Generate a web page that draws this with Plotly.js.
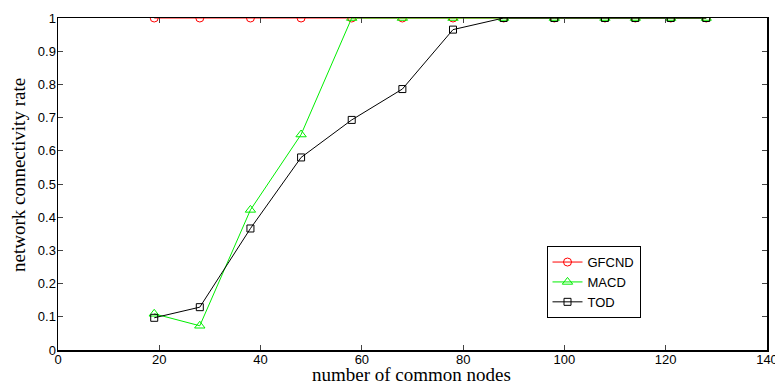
<!DOCTYPE html>
<html><head><meta charset="utf-8">
<script src="https://cdn.plot.ly/plotly-3.0.1.min.js"></script>
<style>html,body{margin:0;padding:0;background:#fff;overflow:hidden}#c{width:775px;height:383px}</style>
</head><body><div id="c"></div>
<script>
const xNodes = [19, 28, 38, 48, 58, 68, 78, 88, 98, 108, 114, 121, 128];
const gfcnd = [1, 1, 1, 1, 1, 1, 1, 1, 1, 1, 1, 1, 1];
const macd = [0.109, 0.073, 0.422, 0.649, 1, 1, 1, 1, 1, 1, 1, 1, 1];
const tod = [0.097, 0.129, 0.366, 0.58, 0.693, 0.786, 0.965, 1, 1, 1, 1, 1, 1];
const xTicks = [0, 20, 40, 60, 80, 100, 120, 140];
const yTicks = [0, 0.1, 0.2, 0.3, 0.4, 0.5, 0.6, 0.7, 0.8, 0.9, 1];
const yTickText = ['0', '0.1', '0.2', '0.3', '0.4', '0.5', '0.6', '0.7', '0.8', '0.9', '1'];
const xTitle = 'number of common nodes';
const yTitle = 'network connectivity rate';

const traces = [
  {x: xNodes, y: gfcnd, name: 'GFCND', mode: 'lines+markers',
   line: {color: '#ff0000', width: 1}, marker: {symbol: 'circle-open', size: 8, color: '#ff0000', line: {width: 1}}},
  {x: xNodes, y: macd, name: 'MACD', mode: 'lines+markers',
   line: {color: '#00ee00', width: 1}, marker: {symbol: 'triangle-up-open', size: 9, color: '#00ee00', line: {width: 1}}},
  {x: xNodes, y: tod, name: 'TOD', mode: 'lines+markers',
   line: {color: '#000000', width: 1}, marker: {symbol: 'square-open', size: 7, color: '#000000', line: {width: 1}}}
];
const tickFont = {family: 'Liberation Sans, Arial, sans-serif', size: 13, color: '#000'};
const titleFont = {family: 'Liberation Serif, Times New Roman, serif', size: 19, color: '#000'};
const layout = {
  width: 775, height: 383,
  margin: {l: 58, r: 8, t: 18, b: 33},
  paper_bgcolor: '#fff', plot_bgcolor: '#fff',
  showlegend: true,
  legend: {x: 0.689, y: 0.313, xanchor: 'left', yanchor: 'top', bordercolor: '#000', borderwidth: 1,
    font: {family: 'Liberation Sans, Arial, sans-serif', size: 13, color: '#000'},
    bgcolor: '#fff', tracegroupgap: 0, itemwidth: 30},
  xaxis: {range: [0, 140], tickvals: xTicks, ticktext: xTicks.map(String), ticks: 'inside', ticklen: 5,
    showgrid: false, zeroline: false, showline: true, linecolor: '#000', linewidth: 1.5, mirror: 'ticks',
    tickfont: tickFont, ticklabelstandoff: -3, ticklabeloverflow: 'allow', automargin: false},
  yaxis: {range: [0, 1], tickvals: yTicks, ticktext: yTickText, ticks: 'inside', ticklen: 5,
    showgrid: false, zeroline: false, showline: true, linecolor: '#000', linewidth: 1.5, mirror: 'ticks',
    tickfont: tickFont, ticklabelstandoff: -2, automargin: false},
  annotations: [
    {text: xTitle, xref: 'paper', yref: 'paper', x: 0.498, y: 0, xanchor: 'center', yanchor: 'middle',
     yshift: -24, showarrow: false, font: titleFont},
    {text: yTitle, xref: 'paper', yref: 'paper', x: 0, y: 0.527, xanchor: 'center', yanchor: 'middle',
     xshift: -40, textangle: -90, showarrow: false, font: titleFont}
  ]
};
Plotly.newPlot('c', traces, layout, {displayModeBar: false, staticPlot: true});
</script></body></html>
